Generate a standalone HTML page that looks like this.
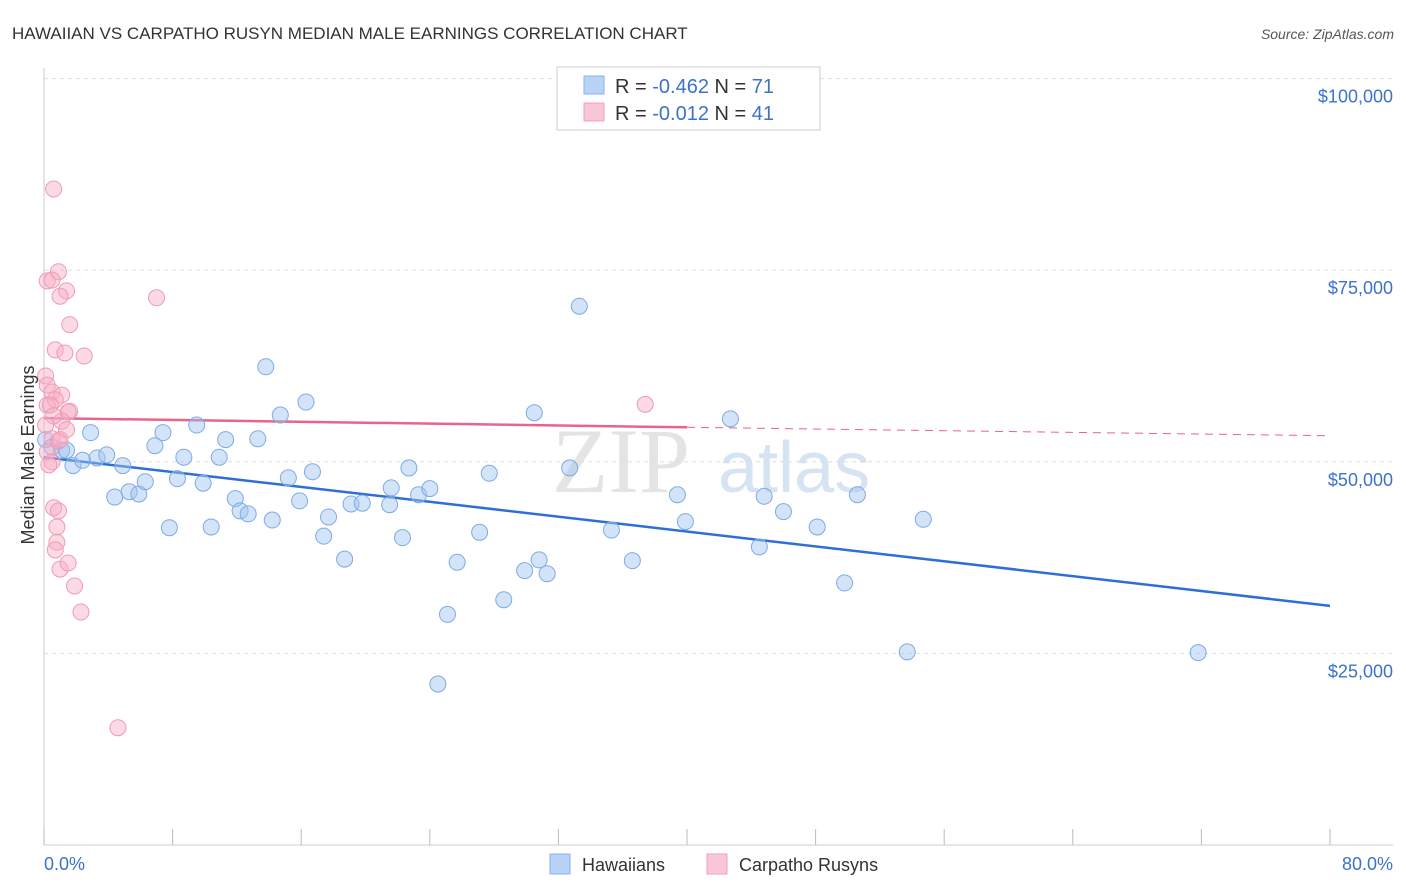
<!DOCTYPE html>
<html><head><meta charset="utf-8">
<style>
body{margin:0;background:#fff;font-family:"Liberation Sans",sans-serif;}
#wrap{position:relative;width:1406px;height:892px;overflow:hidden;}
</style></head>
<body>
<div id="wrap">
<svg id="chart" width="1406" height="892" xmlns="http://www.w3.org/2000/svg">
<text x="12" y="39" font-size="17" fill="#333">HAWAIIAN VS CARPATHO RUSYN MEDIAN MALE EARNINGS CORRELATION CHART</text>
<text x="1394" y="39" font-size="14" fill="#555" font-style="italic" text-anchor="end">Source: ZipAtlas.com</text>
<g>
<text x="552" y="492" font-size="92" fill="#e4e4e4" font-family="Liberation Serif,serif">ZIP</text>
<text x="718" y="492" font-size="72" fill="#d6e3f3">atlas</text>
</g>
<g id="grid"></g>
<g id="axes"></g>
<g id="trends"></g>
<g id="points"></g>
<text transform="translate(34,455) rotate(-90)" font-size="18" fill="#333" text-anchor="middle">Median Male Earnings</text>
<g>
<rect x="557" y="67" width="263" height="63" fill="#fff" stroke="#ccc"/>
<rect x="584" y="76" width="20" height="18" fill="#b8d3f5" stroke="#8ab4e8"/>
<text x="615" y="93" font-size="20" fill="#333">R = <tspan fill="#3b73c9">-0.462</tspan>   N = <tspan fill="#3b73c9">71</tspan></text>
<rect x="584" y="103" width="20" height="18" fill="#f8c6d6" stroke="#f0a0bb"/>
<text x="615" y="120" font-size="20" fill="#333">R = <tspan fill="#3b73c9">-0.012</tspan>   N = <tspan fill="#3b73c9">41</tspan></text>
</g>
<g>
<rect x="550" y="854" width="20" height="20" fill="#b8d3f5" stroke="#8ab4e8"/>
<text x="582" y="871" font-size="18" fill="#333">Hawaiians</text>
<rect x="707" y="854" width="20" height="20" fill="#f8c6d6" stroke="#f0a0bb"/>
<text x="739" y="871" font-size="18" fill="#333">Carpatho Rusyns</text>
</g>
</svg>
</div>
<script>
const blueX=[0.1,0.5,1.1,1.4,1.8,2.9,2.4,3.3,3.9,4.4,4.9,5.3,5.9,6.3,6.9,7.4,7.8,8.3,8.7,9.5,9.9,10.4,10.9,11.3,11.9,12.2,12.7,13.3,13.8,14.2,14.7,15.2,15.9,16.3,16.7,17.4,17.7,18.7,19.1,19.8,21.5,21.6,22.3,22.7,23.3,24.0,24.5,25.1,25.7,27.1,27.7,28.6,29.9,30.5,30.8,31.3,32.7,33.3,35.3,36.6,39.4,39.9,42.7,44.5,44.8,46.0,48.1,49.8,50.6,53.7,54.7,71.8];
const blueY=[52.9,51.9,51.5,51.5,49.5,53.8,50.2,50.5,50.9,45.4,49.5,46.1,45.8,47.4,52.1,53.8,41.4,47.8,50.6,54.8,47.2,41.5,50.6,52.9,45.2,43.6,43.2,53.0,62.4,42.4,56.1,47.9,44.9,57.8,48.7,40.3,42.8,37.3,44.5,44.6,44.4,46.6,40.1,49.2,45.7,46.5,21.0,30.1,36.9,40.8,48.5,32.0,35.8,56.4,37.2,35.4,49.2,70.3,41.1,37.1,45.7,42.2,55.6,38.9,45.5,43.5,41.5,34.2,45.7,25.2,42.5,25.1];
const pinkX=[0.6,0.2,0.9,0.5,1.4,1.0,7.0,1.6,0.7,1.3,2.5,0.1,0.2,0.5,1.1,0.7,1.6,1.5,0.2,1.1,1.4,0.5,0.9,0.2,0.5,0.6,0.9,0.8,0.8,0.7,1.0,1.5,1.9,2.3,4.6,37.4,0.4,0.6,0.1,0.3,1.0];
const pinkY=[85.6,73.6,74.8,73.7,72.3,71.6,71.4,67.9,64.6,64.2,63.8,61.2,60.0,59.1,58.7,58.1,56.6,56.5,57.4,55.3,54.2,53.0,52.7,51.3,50.0,44.0,43.6,41.5,39.5,38.5,36.0,36.8,33.8,30.4,15.3,57.5,57.4,56.0,54.8,49.6,52.9];
const blueTrend=[50.6,31.2];
const pinkTrend=[55.7,54.5,53.4];
const yTicks=[25,50,75,100];
const yTickLabels=["$25,000","$50,000","$75,000","$100,000"];
const xTicks=[0,8,16,24,32,40,48,56,64,72,80];

const NS="http://www.w3.org/2000/svg";
const X0=44,X1=1330,XMAX=80;
const Y0=845,PXK=191.6/25;
const sx=v=>X0+(X1-X0)*v/XMAX;
const sy=v=>Y0-v*PXK;
function mk(tag,attrs,parent){const e=document.createElementNS(NS,tag);for(const k in attrs)e.setAttribute(k,attrs[k]);document.getElementById(parent).appendChild(e);return e;}

yTicks.forEach((t,i)=>{
  const l=mk('line',{x1:44,x2:1393,y1:sy(t),y2:sy(t),stroke:'#ddd','stroke-dasharray':'4,4'},'grid');
  
  
  const tx=mk('text',{x:1393,y:sy(t)+24,'font-size':18,fill:'#3b73c9','text-anchor':'end'},'grid');
  tx.textContent=yTickLabels[i];
  
  
});
const yl=mk('line',{x1:44,x2:44,y1:68,y2:845,stroke:'#ccc'},'axes');


const xl=mk('line',{x1:44,x2:1393,y1:845,y2:845,stroke:'#ccc'},'axes');


xTicks.forEach(t=>{
  const l=mk('line',{x1:sx(t),x2:sx(t),y1:829,y2:845,stroke:'#bbb'},'axes');
  
  
});
const xa=mk('text',{x:44,y:870,'font-size':18,fill:'#3b73c9'},'axes');
xa.textContent=xTicks[0].toFixed(1)+'%';


const xb=mk('text',{x:1393,y:870,'font-size':18,fill:'#3b73c9','text-anchor':'end'},'axes');
xb.textContent=xTicks[xTicks.length-1].toFixed(1)+'%';



blueX.forEach((x,i)=>{
  const c=mk('circle',{cx:sx(x),cy:sy(blueY[i]),r:8,fill:'rgba(160,196,240,0.45)',stroke:'#7eaae6','stroke-width':1},'points');
  
  
});
pinkX.forEach((x,i)=>{
  const c=mk('circle',{cx:sx(x),cy:sy(pinkY[i]),r:8,fill:'rgba(246,172,196,0.45)',stroke:'#f09ab6','stroke-width':1},'points');
  
  
});
const bt=mk('line',{x1:sx(0),y1:sy(blueTrend[0]),x2:sx(80),y2:sy(blueTrend[1]),stroke:'#2d6fd6','stroke-width':2.5},'trends');


const pt=mk('line',{x1:sx(0),y1:sy(pinkTrend[0]),x2:sx(40),y2:sy(pinkTrend[1]),stroke:'#e8648e','stroke-width':2.5},'trends');


const pd=mk('line',{x1:sx(40),y1:sy(pinkTrend[1]),x2:sx(80),y2:sy(pinkTrend[2]),stroke:'#e8648e','stroke-width':1,'stroke-dasharray':'8,6'},'trends');


</script>
</body></html>
